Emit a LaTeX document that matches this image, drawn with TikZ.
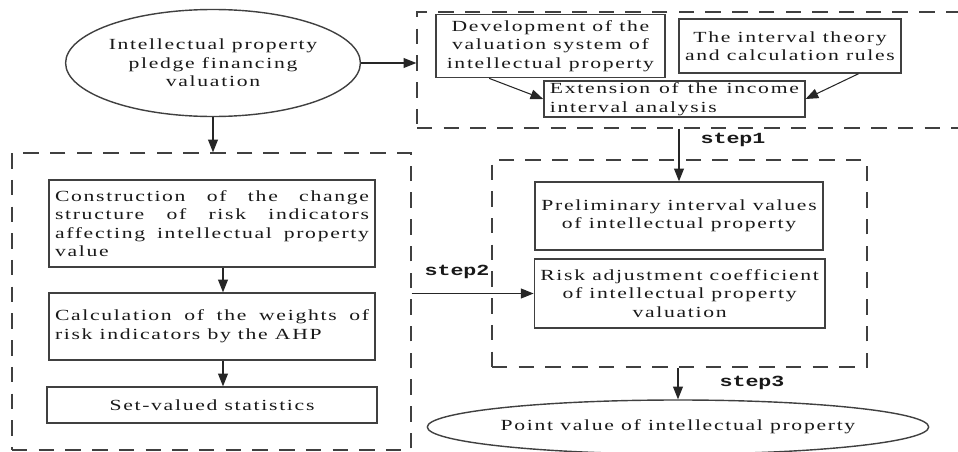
\documentclass[tikz,border=0pt]{standalone}
\usepackage{fontspec}
\setmainfont[FakeStretch=1.4,LetterSpace=11]{Liberation Serif}
\newfontfamily\stepfont[FakeStretch=1.4]{Liberation Mono}
\usetikzlibrary{arrows.meta,shapes.geometric}

\begin{document}
\begin{tikzpicture}[>={Triangle[length=9pt,width=7pt]}]
	\tikzstyle{txt}=[text=black!90,font=\fontsize{11pt}{13.2pt}\selectfont]
	\tikzstyle{rec}=[txt,rectangle,draw=black!75,line width=1pt,inner sep=0.15cm]
	\tikzstyle{oval}=[txt,ellipse,draw=black!75,line width=1pt,inner sep=0pt]
	\tikzstyle{grp}=[rectangle,draw=black!75,line width=1pt,dash pattern=on 11pt off 8pt,inner sep=0pt]
	\tikzstyle{steplab}=[text=black!90,font=\stepfont\bfseries\fontsize{11pt}{13pt}\selectfont]
	\tikzstyle{link}=[->,draw=black!85,line width=0.75pt]
	\useasboundingbox (0,0) rectangle (23.95,11.275);

	% dashed groups
	\node[grp,minimum width=13.7cm,minimum height=2.9cm] (G1) at (17.275,9.525) {};
	\node[grp,minimum width=9.375cm,minimum height=5.175cm] (G2) at (16.9875,4.6875) {};
	\node[grp,minimum width=9.975cm,minimum height=7.425cm] (G3) at (5.2875,3.7375) {};

	\node[oval,minimum width=7.075cm,minimum height=2.675cm,align=center] (IPF) at (5.325,9.7)
		{Intellectual property\\pledge financing\\valuation};

	\node[rec,minimum width=5.725cm,minimum height=1.35cm,align=center] (DEV) at (13.76,10.125)
		{Development of the\\valuation system of\\intellectual property};
	\node[rec,minimum width=5.5cm,minimum height=1.35cm,align=center] (ITR) at (19.75,10.125)
		{The interval theory\\and calculation rules};
	\node[rec,text width=6.225cm,minimum height=0.9cm,inner ysep=0pt,align=justify] (EXT) at (16.86,8.8)
		{Extension of the income\linebreak interval analysis};

	\node[rec,minimum width=7.2cm,minimum height=1.7cm,align=center] (PRE) at (16.975,5.875)
		{Preliminary interval values\\of intellectual property};
	\node[rec,minimum width=7.225cm,minimum height=1.725cm,align=center] (RAC) at (16.99,3.9375)
		{Risk adjustment coefficient\\of intellectual property\\valuation};

	\node[rec,text width=7.85cm,minimum height=2.175cm,align=justify] (CON) at (5.3,5.6875)
		{Construction of the change\linebreak structure of risk indicators\linebreak affecting intellectual property\linebreak value};
	\node[rec,text width=7.85cm,minimum height=1.675cm,align=justify] (CAL) at (5.3,3.1125)
		{Calculation of the weights of\linebreak risk indicators by the AHP};
	\node[rec,minimum width=8.25cm,minimum height=0.9cm,align=center] (SET) at (5.3,1.15)
		{Set-valued statistics};

	\node[oval,minimum width=9.325cm,minimum height=1.35cm] (PV) at (16.95,0.6)
		{Point value of intellectual property};

	\path (IPF.east) edge[link] (IPF.east -| G1.west);
	\path (IPF.south) edge[link] (IPF.south |- G3.north);
	\path ([xshift=1.35cm]DEV.south west) edge[link] (EXT.west);
	\path ([xshift=-1.075cm]ITR.south east) edge[link] (EXT.east);
	\path ([xshift=0.275cm]CON.south) edge[link] ([xshift=0.275cm]CAL.north);
	\path ([xshift=0.275cm]CAL.south) edge[link] ([xshift=0.275cm]SET.north);
	\path (G1.south -| PRE.north) edge[link] (PRE.north);
	\path (G3.east |- RAC.west) edge[link] (RAC.west);
	\path (G2.south -| PV.north) edge[link] (PV.north);

	\node[steplab] at (18.325,7.775) {step1};
	\node[steplab] at (11.425,4.475) {step2};
	\node[steplab] at (18.8,1.7) {step3};
\end{tikzpicture}
\end{document}
